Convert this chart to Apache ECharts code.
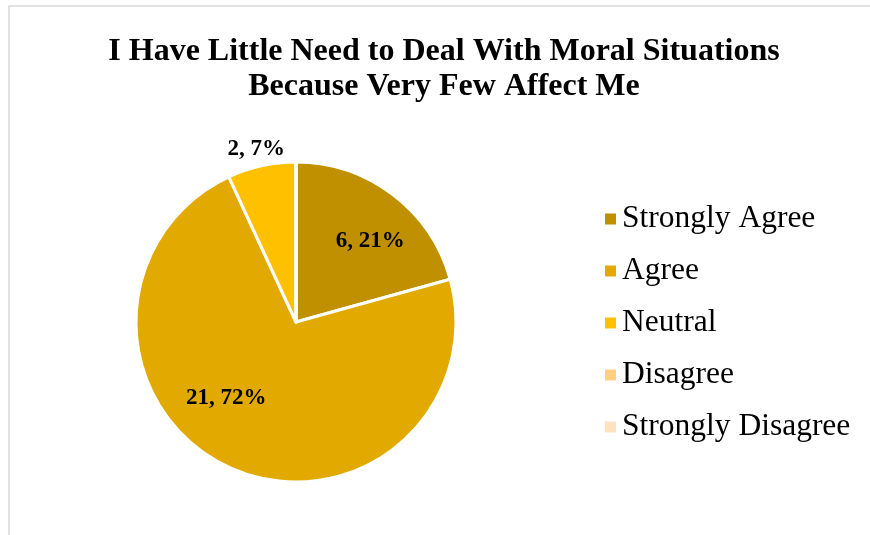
<!DOCTYPE html>
<html>
<head>
<meta charset="utf-8">
<script src="https://cdn.jsdelivr.net/npm/echarts@6/dist/echarts.min.js"></script>
<style>
html,body{margin:0;padding:0;background:#fff;}
#chart{width:870px;height:535px;}
</style>
</head>
<body>
<div id="chart"></div>
<script>
const titleText = 'I Have Little Need to Deal With Moral Situations\nBecause Very Few Affect Me';
const categories = ['Strongly Agree', 'Agree', 'Neutral', 'Disagree', 'Strongly Disagree'];
const counts = [6, 21, 2, 0, 0];
const colors = ['#C09000', '#E2AA00', '#FFC000', '#FFD07F', '#FFE2BF'];
// label nudges from ECharts' default inside position (dx, dy)
const labelNudge = [[24, -15], [-35, 1], [-22, -92], [0, 0], [0, 0]];

const FONT = "'Times New Roman', 'Liberation Serif', serif";
const chart = echarts.init(document.getElementById('chart'), null, {renderer: 'canvas'});

const data = categories.map((name, i) => ({
  name: name,
  value: counts[i],
  itemStyle: {color: colors[i]},
  label: {show: counts[i] > 0}
}));

chart.setOption({
  animation: false,
  backgroundColor: '#fff',
  graphic: [{
    type: 'rect',
    shape: {x: 9, y: 6, width: 900, height: 600},
    style: {fill: 'none', stroke: '#d9d9d9', lineWidth: 1.5},
    z: -10
  }],
  title: {
    text: titleText,
    left: 439,
    top: 29,
    textAlign: 'center',
    textStyle: {
      fontFamily: FONT,
      fontWeight: 'bold',
      fontSize: 32,
      lineHeight: 35,
      color: '#000'
    }
  },
  legend: {
    orient: 'vertical',
    left: 598,
    top: 198,
    itemWidth: 13,
    itemHeight: 13,
    itemGap: 20,
    icon: 'rect',
    data: categories,
    textStyle: {
      fontFamily: FONT,
      fontSize: 31.5,
      lineHeight: 28,
      color: '#000'
    }
  },
  series: [{
    type: 'pie',
    center: [296, 322],
    radius: [0, 160],
    startAngle: 90,
    clockwise: true,
    percentPrecision: 0,
    avoidLabelOverlap: false,
    itemStyle: {borderColor: '#fff', borderWidth: 3},
    label: {
      position: 'inside',
      formatter: '{c}, {d}%',
      fontFamily: FONT,
      fontWeight: 'bold',
      fontSize: 23,
      color: '#000'
    },
    labelLine: {show: false},
    emphasis: {disabled: true},
    labelLayout: function (params) {
      const n = labelNudge[params.dataIndex] || [0, 0];
      return {dx: n[0], dy: n[1]};
    },
    data: data
  }]
});
</script>
</body>
</html>
